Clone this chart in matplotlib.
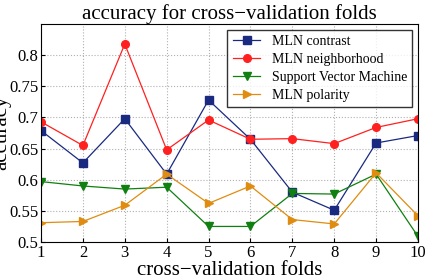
import matplotlib
matplotlib.use("Agg")
import matplotlib.pyplot as plt

folds = [1, 2, 3, 4, 5, 6, 7, 8, 9, 10]
mln_contrast = [0.679, 0.627, 0.698, 0.609, 0.728, 0.665, 0.580, 0.551, 0.659, 0.671]
mln_neighborhood = [0.693, 0.655, 0.818, 0.648, 0.696, 0.665, 0.666, 0.658, 0.684, 0.698]
svm = [0.597, 0.590, 0.585, 0.588, 0.525, 0.525, 0.578, 0.577, 0.609, 0.509]
mln_polarity = [0.531, 0.533, 0.559, 0.609, 0.562, 0.590, 0.536, 0.529, 0.611, 0.542]
yticks = [0.5, 0.55, 0.6, 0.65, 0.7, 0.75, 0.8]
ytick_labels = ["0.5", "0.55", "0.6", "0.65", "0.7", "0.75", "0.8"]

plt.rcParams["font.family"] = ["Liberation Serif", "DejaVu Serif"]

fig = plt.figure(figsize=(4.25, 2.8), dpi=100)
ax = fig.add_axes([0.0965, 0.1357, 0.887, 0.7783])

ax.plot(folds, mln_contrast, "-s", color="#1a2a80", lw=0.9, ms=5.5, label="MLN contrast")
ax.plot(folds, mln_neighborhood, "-o", color="#ff2020", lw=0.9, ms=5.5, label="MLN neighborhood")
ax.plot(folds, svm, "-v", color="#108010", lw=0.9, ms=5.5, label="Support Vector Machine")
ax.plot(folds, mln_polarity, "->", color="#e08c10", lw=0.9, ms=5.5, label="MLN polarity")

ax.set_xlim(1, 10)
ax.set_ylim(0.5, 0.85)
ax.set_xticks(folds)
ax.set_yticks(yticks)
ax.set_yticklabels(ytick_labels)
ax.tick_params(labelsize=12, direction="in", length=3, pad=2)
ax.grid(True, linestyle=":", color="#b0b0b0", lw=0.8)

ax.set_title("accuracy for cross\u2212validation folds", fontsize=15, pad=3)
ax.set_xlabel("cross\u2212validation folds", fontsize=15, labelpad=0)
ax.set_ylabel("accuracy", fontsize=15)
ax.yaxis.set_label_coords(-0.078, 0.5)

leg = ax.legend(loc="upper right", fontsize=10, frameon=True, fancybox=False,
                borderaxespad=0.4, handlelength=2.0, labelspacing=0.35,
                borderpad=0.4)
leg.get_frame().set_edgecolor("black")
leg.get_frame().set_linewidth(1.0)

fig.savefig("out.png", dpi=100)
